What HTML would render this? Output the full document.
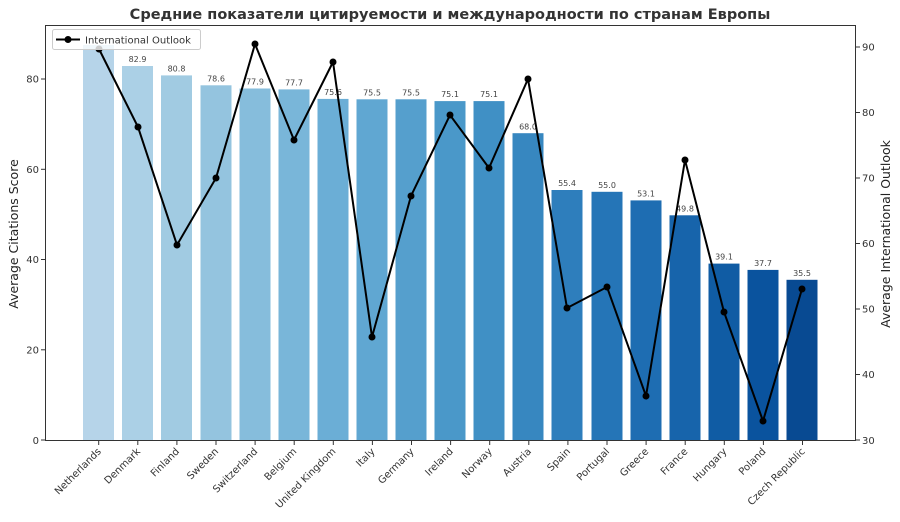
<!DOCTYPE html>
<html><head><meta charset="utf-8"><style>
html,body{margin:0;padding:0;background:#fff;}
svg{display:block;font-family:"DejaVu Sans","Liberation Sans",sans-serif;}
</style></head><body>
<svg width="900" height="522" viewBox="0 0 900 522" xmlns="http://www.w3.org/2000/svg">
<rect width="900" height="522" fill="#fff"/>
<text x="450" y="19" text-anchor="middle" font-size="14.5" font-weight="bold" fill="#333">Средние показатели цитируемости и международности по странам Европы</text>
<g id="bars">
<rect x="83" y="45" width="31" height="395" fill="#b6d4e9"/>
<rect x="122" y="66" width="31" height="374" fill="#abd0e6"/>
<rect x="161" y="75.4" width="31" height="364.6" fill="#a1cbe2"/>
<rect x="200.5" y="85.3" width="31" height="354.7" fill="#94c4df"/>
<rect x="239.5" y="88.5" width="31" height="351.5" fill="#86bddc"/>
<rect x="278.5" y="89.4" width="31" height="350.6" fill="#79b6d9"/>
<rect x="317.5" y="98.9" width="31" height="341.1" fill="#6baed6"/>
<rect x="356.5" y="99.3" width="31" height="340.7" fill="#60a7d2"/>
<rect x="395.5" y="99.3" width="31" height="340.7" fill="#559fcd"/>
<rect x="434.5" y="101.1" width="31" height="338.9" fill="#4a98c9"/>
<rect x="473.5" y="101.1" width="31" height="338.9" fill="#4090c5"/>
<rect x="512.5" y="133.2" width="31" height="306.8" fill="#3787c0"/>
<rect x="551.5" y="190" width="31" height="250" fill="#2e7ebc"/>
<rect x="591.5" y="191.8" width="31" height="248.2" fill="#2575b7"/>
<rect x="630.5" y="200.4" width="31" height="239.6" fill="#1e6db2"/>
<rect x="669.5" y="215.3" width="31" height="224.7" fill="#1764ab"/>
<rect x="708.5" y="263.6" width="31" height="176.4" fill="#105ca4"/>
<rect x="747.5" y="269.9" width="31" height="170.1" fill="#0a539e"/>
<rect x="786.5" y="279.8" width="31" height="160.2" fill="#084a92"/>
</g>
<g font-size="8" fill="#444" text-anchor="middle">
<text x="137.5" y="62">82.9</text>
<text x="176.5" y="71.5">80.8</text>
<text x="216" y="81.5">78.6</text>
<text x="255" y="84.5">77.9</text>
<text x="294" y="85.5">77.7</text>
<text x="333" y="95">75.6</text>
<text x="372" y="95.5">75.5</text>
<text x="411" y="95.5">75.5</text>
<text x="450" y="97">75.1</text>
<text x="489" y="97">75.1</text>
<text x="528" y="129.5">68.0</text>
<text x="567" y="186">55.4</text>
<text x="607" y="188">55.0</text>
<text x="646" y="196.5">53.1</text>
<text x="685" y="211.5">49.8</text>
<text x="724" y="259.5">39.1</text>
<text x="763" y="266">37.7</text>
<text x="802" y="276">35.5</text>
</g>
<polyline fill="none" stroke="#000" stroke-width="2" stroke-linejoin="miter" points="99,49 138,127 177,245 216,178 255,44 294,140 333,62 372,337 411,196 450,115 489,168 528,79 567,308 607,287 646,396 685,160 724,312 763,421 802,289"/>
<g fill="#000">
<circle cx="99" cy="49" r="3.5"/><circle cx="138" cy="127" r="3.5"/><circle cx="177" cy="245" r="3.5"/><circle cx="216" cy="178" r="3.5"/><circle cx="255" cy="44" r="3.5"/><circle cx="294" cy="140" r="3.5"/><circle cx="333" cy="62" r="3.5"/><circle cx="372" cy="337" r="3.5"/><circle cx="411" cy="196" r="3.5"/><circle cx="450" cy="115" r="3.5"/><circle cx="489" cy="168" r="3.5"/><circle cx="528" cy="79" r="3.5"/><circle cx="567" cy="308" r="3.5"/><circle cx="607" cy="287" r="3.5"/><circle cx="646" cy="396" r="3.5"/><circle cx="685" cy="160" r="3.5"/><circle cx="724" cy="312" r="3.5"/><circle cx="763" cy="421" r="3.5"/><circle cx="802" cy="289" r="3.5"/>
</g>
<rect x="45.5" y="25.5" width="810" height="415" fill="none" stroke="#333" stroke-width="1"/>
<g stroke="#333" stroke-width="1">
<line x1="41" x2="45" y1="440" y2="440"/><line x1="41" x2="45" y1="349.8" y2="349.8"/><line x1="41" x2="45" y1="259.5" y2="259.5"/><line x1="41" x2="45" y1="169.3" y2="169.3"/><line x1="41" x2="45" y1="79" y2="79"/>
<line x1="856" x2="860" y1="440" y2="440"/><line x1="856" x2="860" y1="374.5" y2="374.5"/><line x1="856" x2="860" y1="309" y2="309"/><line x1="856" x2="860" y1="243.5" y2="243.5"/><line x1="856" x2="860" y1="178" y2="178"/><line x1="856" x2="860" y1="112.5" y2="112.5"/><line x1="856" x2="860" y1="47" y2="47"/>
</g>
<g stroke="#333" stroke-width="1">
<line x1="98.7" x2="98.7" y1="441" y2="445"/><line x1="137.8" x2="137.8" y1="441" y2="445"/><line x1="176.9" x2="176.9" y1="441" y2="445"/><line x1="216" x2="216" y1="441" y2="445"/><line x1="255.1" x2="255.1" y1="441" y2="445"/><line x1="294.2" x2="294.2" y1="441" y2="445"/><line x1="333.3" x2="333.3" y1="441" y2="445"/><line x1="372.4" x2="372.4" y1="441" y2="445"/><line x1="411.5" x2="411.5" y1="441" y2="445"/><line x1="450.6" x2="450.6" y1="441" y2="445"/><line x1="489.7" x2="489.7" y1="441" y2="445"/><line x1="528.8" x2="528.8" y1="441" y2="445"/><line x1="567.9" x2="567.9" y1="441" y2="445"/><line x1="607" x2="607" y1="441" y2="445"/><line x1="646.1" x2="646.1" y1="441" y2="445"/><line x1="685.2" x2="685.2" y1="441" y2="445"/><line x1="724.3" x2="724.3" y1="441" y2="445"/><line x1="763.4" x2="763.4" y1="441" y2="445"/><line x1="802.5" x2="802.5" y1="441" y2="445"/>
</g>
<g font-size="10" fill="#333" text-anchor="end">
<text x="39" y="444">0</text><text x="39" y="353.5">20</text><text x="39" y="263">40</text><text x="39" y="173">60</text><text x="39" y="82.5">80</text>
</g>
<g font-size="10" fill="#333" text-anchor="start">
<text x="862" y="444">30</text><text x="862" y="378">40</text><text x="862" y="312.5">50</text><text x="862" y="247">60</text><text x="862" y="181.5">70</text><text x="862" y="116">80</text><text x="862" y="50.5">90</text>
</g>
<g font-size="10" fill="#333" text-anchor="end">
<text transform="translate(101.7,452) rotate(-45)">Netherlands</text>
<text transform="translate(140.8,452) rotate(-45)">Denmark</text>
<text transform="translate(179.9,452) rotate(-45)">Finland</text>
<text transform="translate(219,452) rotate(-45)">Sweden</text>
<text transform="translate(258.1,452) rotate(-45)">Switzerland</text>
<text transform="translate(297.2,452) rotate(-45)">Belgium</text>
<text transform="translate(336.3,452) rotate(-45)">United Kingdom</text>
<text transform="translate(375.4,452) rotate(-45)">Italy</text>
<text transform="translate(414.5,452) rotate(-45)">Germany</text>
<text transform="translate(453.6,452) rotate(-45)">Ireland</text>
<text transform="translate(492.7,452) rotate(-45)">Norway</text>
<text transform="translate(531.8,452) rotate(-45)">Austria</text>
<text transform="translate(570.9,452) rotate(-45)">Spain</text>
<text transform="translate(610,452) rotate(-45)">Portugal</text>
<text transform="translate(649.1,452) rotate(-45)">Greece</text>
<text transform="translate(688.2,452) rotate(-45)">France</text>
<text transform="translate(727.3,452) rotate(-45)">Hungary</text>
<text transform="translate(766.4,452) rotate(-45)">Poland</text>
<text transform="translate(805.5,452) rotate(-45)">Czech Republic</text>
</g>
<text transform="translate(18,234) rotate(-90)" text-anchor="middle" font-size="12.5" fill="#222">Average Citations Score</text>
<text transform="translate(890,234) rotate(-90)" text-anchor="middle" font-size="12.5" fill="#222">Average International Outlook</text>
<rect x="52.5" y="29.5" width="148" height="20" rx="2" fill="#fff" fill-opacity="0.8" stroke="#ccc"/>
<line x1="56" x2="80" y1="39.5" y2="39.5" stroke="#000" stroke-width="2"/>
<circle cx="68" cy="39.5" r="3.5" fill="#000"/>
<text x="85" y="43.5" font-size="10" fill="#333">International Outlook</text>
</svg>
</body></html>
